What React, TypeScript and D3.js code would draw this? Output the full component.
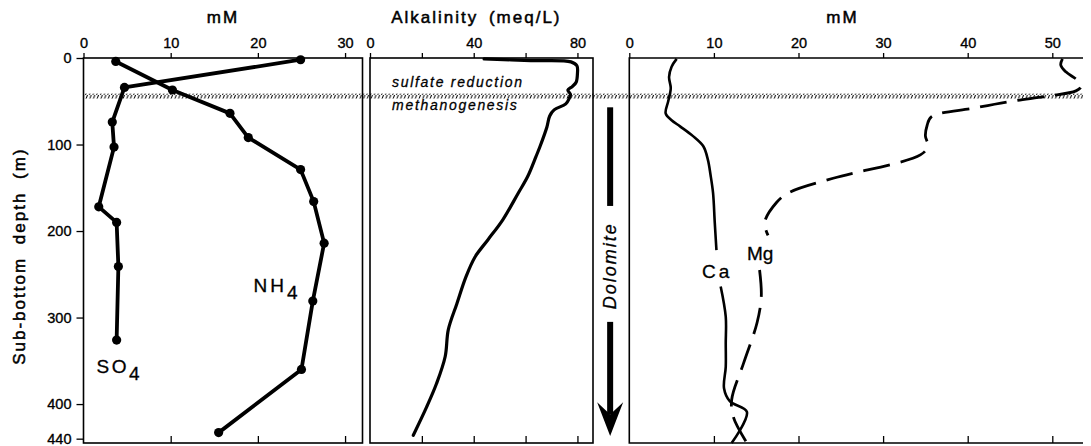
import React, { useEffect, useRef } from 'react';
import * as d3 from 'd3';

// sub-bottom depth (m) and concentrations
const so4Depth = [2, 34, 74, 103, 172, 190, 241, 326];
const so4Values = [24.9, 4.7, 3.3, 3.5, 1.75, 3.8, 4.0, 3.8];

const nh4Depth = [4, 37, 64, 92, 129, 166, 214, 281, 360, 433];
const nh4Values = [3.7, 10.2, 16.8, 18.9, 24.9, 26.4, 27.6, 26.3, 25.0, 15.5];

const alkDepth = [1, 3, 4.5, 9, 18, 28, 33, 37, 42, 47, 53, 60, 67, 80, 102, 114, 137, 156, 187, 210, 230, 253, 284, 314, 345, 376, 403, 436];
const alkValues = [44, 62, 77.5, 79.8, 80, 79.5, 78, 76.3, 77.3, 76.8, 75.5, 71, 69.3, 68.2, 65.6, 64.0, 60.8, 57.2, 51.2, 45.5, 40.5, 37, 33.5, 30.2, 29, 25.7, 21.9, 16.7];

// null = break in the line where the label sits
const caDepth = [1, 10, 22, 35, 50, 64, 72, 79, 90, 102, 118, 135, 156, 190, 222, 240, 264, 299, 330, 357, 382, 397, 409, 445];
const caValues = [5.6, 5.0, 4.7, 4.9, 4.6, 4.3, 5.0, 6.0, 7.5, 8.75, 9.3, 9.6, 9.9, 10.1, 10.3, null, 10.8, 11.4, 11.4, 11.4, 11.2, 11.9, 13.9, 12.1];

const mgDepth = [1, 8, 16, 26, 33, 38, 44, 50, 58, 68, 78, 90, 102, 112, 139, 156, 167, 190, 205, 225, 245, 276, 306, 353, 395, 415, 445];
const mgValues = [51.2, 51.0, 51.6, 53.0, 53.4, 52.8, 49.5, 45.2, 40.7, 35.7, 35.2, 35.0, 35.3, 34.4, 24.1, 18.8, 17.4, 16.0, 16.4, null, 15.4, 15.6, 15.1, 13.5, 12.1, 12.3, 13.9];

const depthTicks = [0, 100, 200, 300, 400, 440];
const mmTicksLeft = [0, 10, 20, 30];
const alkTicks = [0, 20, 40, 60, 80];
const alkLabels = [0, 40, 80];
const mmTicksRight = [0, 10, 20, 30, 40, 50];
const boundaryDepth = 44; // sulfate reduction / methanogenesis

const font = '"Liberation Sans", Arial, Helvetica, sans-serif';

const App = () => {
  const chartRef = useRef(null);

  useEffect(() => {
    const width = 1091;
    const height = 446;
    const top = 58;
    const bottom = 443;

    const svg = d3.select(chartRef.current);
    svg.selectAll('*').remove();
    svg.attr('width', width).attr('height', height);

    const y = d3.scaleLinear().domain([0, 445]).range([top, bottom]);
    const x1 = d3.scaleLinear().domain([0, 32]).range([83.5, 362.5]);
    const x2 = d3.scaleLinear().domain([0, 86]).range([370, 593]);
    const x3 = d3.scaleLinear().domain([0, 55]).range([629.3, 1094.6]);

    // hatch pattern for the redox boundary
    const defs = svg.append('defs');
    const pat = defs.append('pattern')
      .attr('id', 'hatch')
      .attr('patternUnits', 'userSpaceOnUse')
      .attr('width', 3.7)
      .attr('height', 5);
    pat.append('path')
      .attr('d', 'M0.4,5 L2.4,0')
      .attr('stroke', '#000')
      .attr('stroke-width', 1);

    const styleAxis = (g, size) => {
      g.select('.domain').remove();
      g.selectAll('line').attr('stroke', '#000').attr('stroke-width', 1.3);
      g.selectAll('text')
        .attr('font-family', font)
        .attr('font-size', size)
        .attr('fill', '#000')
        .attr('stroke', '#000')
        .attr('stroke-width', 0.35);
    };

    // frames
    const frame = svg.append('g').attr('fill', 'none').attr('stroke', '#000').attr('stroke-width', 1.6);
    frame.append('rect').attr('x', x1(0)).attr('y', top).attr('width', x1(32) - x1(0)).attr('height', bottom - top);
    frame.append('rect').attr('x', x2(0)).attr('y', top).attr('width', x2(86) - x2(0)).attr('height', bottom - top);
    frame.append('path').attr('d', `M${x3(55)},${top} H${x3(0)} V${bottom} H${x3(55)}`);

    // top axes
    svg.append('g').attr('transform', `translate(0,${top})`)
      .call(d3.axisTop(x1).tickValues(mmTicksLeft).tickSize(5).tickSizeOuter(0).tickPadding(5))
      .call(g => styleAxis(g, 14.5));
    svg.append('g').attr('transform', `translate(0,${top})`)
      .call(d3.axisTop(x2).tickValues(alkTicks).tickSize(5).tickSizeOuter(0).tickPadding(5)
        .tickFormat(d => (alkLabels.includes(d) ? d : '')))
      .call(g => styleAxis(g, 14.5));
    svg.append('g').attr('transform', `translate(0,${top})`)
      .call(d3.axisTop(x3).tickValues(mmTicksRight).tickSize(5).tickSizeOuter(0).tickPadding(5))
      .call(g => styleAxis(g, 14.5));

    // bottom ticks, pointing inward
    [[x1, mmTicksLeft], [x2, alkTicks], [x3, mmTicksRight]].forEach(([sc, tv]) => {
      svg.append('g').attr('transform', `translate(0,${bottom})`)
        .call(d3.axisTop(sc).tickValues(tv.filter(v => v > 0)).tickSize(7).tickSizeOuter(0).tickFormat(() => ''))
        .call(g => styleAxis(g, 14));
    });

    // depth axis
    svg.append('g').attr('transform', `translate(${x1(0)},0)`)
      .call(d3.axisLeft(y).tickValues(depthTicks).tickSize(7).tickSizeOuter(0).tickPadding(5))
      .call(g => styleAxis(g, 14.5));

    // titles
    const title = (x, yy, txt) => svg.append('text')
      .attr('x', x).attr('y', yy)
      .attr('text-anchor', 'middle')
      .attr('font-family', font)
      .attr('font-size', 17)
      .attr('letter-spacing', 2)
      .attr('word-spacing', 4)
      .attr('stroke', '#000')
      .attr('stroke-width', 0.5)
      .text(txt);
    title(x1(16), 23, 'mM');
    title(x2(41), 23, 'Alkalinity (meq/L)');
    title(x3(25.2), 23, 'mM');

    svg.append('text')
      .attr('transform', `translate(25,${y(229)}) rotate(-90)`)
      .attr('text-anchor', 'middle')
      .attr('font-family', font)
      .attr('font-size', 17)
      .attr('letter-spacing', 2)
      .attr('word-spacing', 6)
      .attr('stroke', '#000')
      .attr('stroke-width', 0.5)
      .text('Sub-bottom depth (m)');

    // redox boundary band
    svg.append('rect')
      .attr('x', x1(0))
      .attr('y', y(boundaryDepth) - 2.5)
      .attr('width', width - x1(0))
      .attr('height', 5)
      .attr('fill', 'url(#hatch)');

    const italic = (yy, txt) => svg.append('text')
      .attr('x', x2(8.5)).attr('y', yy)
      .attr('font-family', font)
      .attr('font-style', 'italic')
      .attr('font-size', 14)
      .attr('letter-spacing', 1.7)
      .attr('stroke', '#000')
      .attr('stroke-width', 0.3)
      .text(txt);
    italic(y(boundaryDepth) - 9, 'sulfate reduction');
    italic(y(boundaryDepth) + 14, 'methanogenesis');

    // profiles
    const zip = (vals, depths) => vals.map((v, i) => ({ v, d: depths[i] }));

    const line1 = d3.line().x(p => x1(p.v)).y(p => y(p.d));
    [[so4Values, so4Depth], [nh4Values, nh4Depth]].forEach(([vals, depths]) => {
      const pts = zip(vals, depths);
      svg.append('path')
        .attr('d', line1(pts))
        .attr('fill', 'none')
        .attr('stroke', '#000')
        .attr('stroke-width', 3.8)
        .attr('stroke-linejoin', 'round');
      svg.selectAll(null)
        .data(pts)
        .enter()
        .append('circle')
        .attr('cx', p => x1(p.v))
        .attr('cy', p => y(p.d))
        .attr('r', 4.6)
        .attr('fill', '#000');
    });

    const alkLine = d3.line().curve(d3.curveCatmullRom.alpha(0.5)).x(p => x2(p.v)).y(p => y(p.d));
    svg.append('path')
      .attr('d', alkLine(zip(alkValues, alkDepth)))
      .attr('fill', 'none')
      .attr('stroke', '#000')
      .attr('stroke-width', 3.2)
      .attr('stroke-linecap', 'round');

    const line3 = d3.line()
      .defined(p => p.v != null)
      .curve(d3.curveCatmullRom.alpha(0.5))
      .x(p => x3(p.v))
      .y(p => y(p.d));
    svg.append('path')
      .attr('d', line3(zip(caValues, caDepth)))
      .attr('fill', 'none')
      .attr('stroke', '#000')
      .attr('stroke-width', 2.6);
    svg.append('path')
      .attr('d', line3(zip(mgValues, mgDepth)))
      .attr('fill', 'none')
      .attr('stroke', '#000')
      .attr('stroke-width', 2.8)
      .attr('stroke-dasharray', '27 11');

    // series labels
    const label = (x, yy, main, sub, ls) => {
      const t = svg.append('text')
        .attr('x', x).attr('y', yy)
        .attr('font-family', font)
        .attr('font-size', 19)
        .attr('letter-spacing', ls)
        .attr('stroke', '#000')
        .attr('stroke-width', 0.3)
        .text(main);
      if (sub) {
        t.append('tspan').attr('dy', 7).text(sub);
      }
    };
    label(x1(19.5), y(270), 'NH', '4', 3);
    label(x1(1.5), y(364), 'SO', '4', 2.5);
    label(x3(8.6), y(254), 'Ca', null, 3);
    label(x3(13.9), y(234), 'Mg', null, 0);

    // dolomite arrow
    const ax = (x2(86) + x3(0)) / 2 - 1;
    const dol = svg.append('g').attr('fill', '#000');
    dol.append('rect').attr('x', ax - 3).attr('y', y(57)).attr('width', 6).attr('height', y(171) - y(57));
    dol.append('rect').attr('x', ax - 3).attr('y', y(305)).attr('width', 6).attr('height', y(412) - y(305));
    dol.append('path')
      .attr('d', `M${ax - 13},${y(398)} L${ax},${y(437)} L${ax + 13},${y(398)} Q${ax + 2},${y(410)} ${ax},${y(412)} Q${ax - 2},${y(410)} ${ax - 13},${y(398)} Z`);
    dol.append('text')
      .attr('transform', `translate(${ax + 6},${y(240)}) rotate(-90)`)
      .attr('text-anchor', 'middle')
      .attr('font-family', font)
      .attr('font-style', 'italic')
      .attr('font-size', 18)
      .attr('letter-spacing', 2)
      .attr('stroke', '#000')
      .attr('stroke-width', 0.3)
      .text('Dolomite');
  }, []);

  return (
    <div style={{ margin: '-8px 0 0 -8px', width: 1091, height: 446, background: '#fff' }}>
      <svg ref={chartRef} style={{ display: 'block' }}></svg>
    </div>
  );
};

export default App;
